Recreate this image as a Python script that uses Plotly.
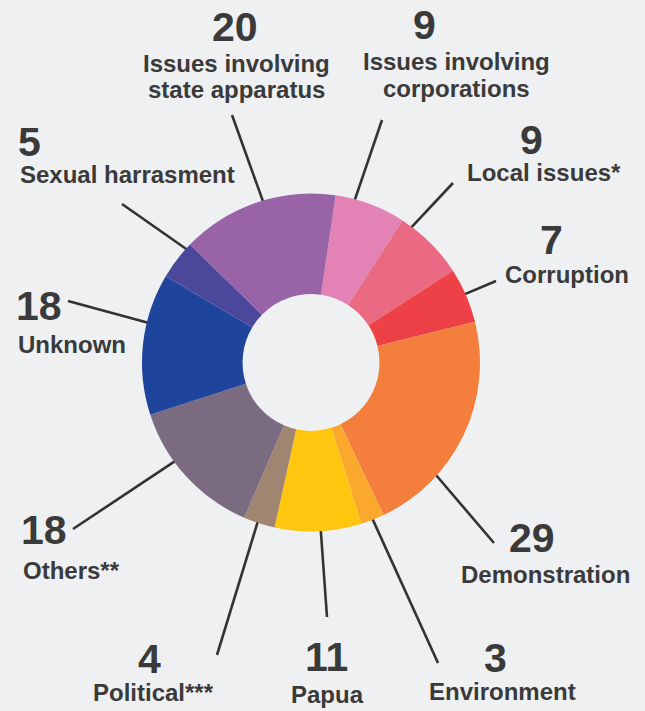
import math
import plotly.graph_objects as go

# ---------------- data ----------------
categories = ["Issues involving corporations", "Local issues*", "Corruption",
              "Demonstration", "Environment", "Papua", "Political***",
              "Others**", "Unknown", "Sexual harrasment",
              "Issues involving state apparatus"]
values = [9, 9, 7, 29, 3, 11, 4, 18, 18, 5, 20]
label_lines = [["Issues involving", "corporations"], ["Local issues*"], ["Corruption"],
               ["Demonstration"], ["Environment"], ["Papua"], ["Political***"],
               ["Others**"], ["Unknown"], ["Sexual harrasment"],
               ["Issues involving", "state apparatus"]]

# ---------------- style / layout ----------------
colors = ["#E383B5", "#E96A82", "#EE4147", "#F47F3D", "#FBA92C", "#FFC60F",
          "#A08570", "#7A6B80", "#1F449B", "#4B489B", "#9963A8"]
BG = "#EFF0F2"
TXT = "#3A3A3A"
W, H = 645, 711
CX, CY, R = 311, 362.5, 169      # pie centre / radius in px
ROT = 8.4                         # start angle (deg clockwise from 12 o'clock)
HOLE = 0.405

# per label: number (x, y, anchor), text (x, y first line, anchor),
# leader: fraction along slice, outer end point (px)
label_layout = [
    dict(num=(425, 25, "center"), txt=(457, 62, "center"), frac=0.27, end=(382, 120)),
    dict(num=(531, 140, "center"), txt=(544, 172, "center"), frac=0.15, end=(453, 183)),
    dict(num=(551, 239.5, "center"), txt=(567, 274, "center"), frac=0.47, end=(496, 281)),
    dict(num=(532, 538, "center"), txt=(545, 574, "center"), frac=0.71, end=(494, 543)),
    dict(num=(495, 658, "center"), txt=(502, 691, "center"), frac=0.5, end=(438, 663)),
    dict(num=(326, 657, "center"), txt=(327, 694, "center"), frac=0.47, end=(327, 617)),
    dict(num=(149, 659, "center"), txt=(153, 692, "center"), frac=0.56, end=(217, 655)),
    dict(num=(20, 530, "left"), txt=(22, 570, "left"), frac=0.63, end=(73, 529)),
    dict(num=(15, 306, "left"), txt=(17, 344, "left"), frac=0.65, end=(68, 301)),
    dict(num=(17, 142, "left"), txt=(19, 174, "left"), frac=0.87, end=(122, 204)),
    dict(num=(235, 27, "center"), txt=(236, 63, "center"), frac=0.54, end=(232, 115)),
]
LINE_GAP = 26.5
NUM_FONT = dict(family="Liberation Sans, Arial, sans-serif",
                size=41, color=TXT, weight="bold")
TXT_FONT = dict(family="Liberation Sans, Arial, sans-serif", size=24, color=TXT,
                weight="bold")


def px(x, y):
    return x / W, 1 - y / H


fig = go.Figure()
fig.add_trace(go.Pie(
    labels=categories, values=values, sort=False, direction="clockwise",
    rotation=ROT, hole=HOLE, textinfo="none", hoverinfo="label+value",
    marker=dict(colors=colors, line=dict(width=0)),
    domain=dict(x=[(CX - R) / W, (CX + R) / W], y=[1 - (CY + R) / H, 1 - (CY - R) / H]),
    showlegend=False,
))

annotations = []
shapes = []
total = sum(values)
cum = 0
for v, lines, lay in zip(values, label_lines, label_layout):
    # leader line
    ang = math.radians(ROT + 360 * (cum + lay["frac"] * v) / total)
    x0 = CX + R * 0.97 * math.sin(ang)
    y0 = CY - R * 0.97 * math.cos(ang)
    x1, y1 = lay["end"]
    a0, b0 = px(x0, y0)
    a1, b1 = px(x1, y1)
    shapes.append(dict(type="line", xref="paper", yref="paper", x0=a0, y0=b0,
                       x1=a1, y1=b1, line=dict(color="#333333", width=2.6),
                       layer="below"))
    cum += v
    # number
    nx, ny, nanc = lay["num"]
    ax, ay = px(nx, ny)
    annotations.append(dict(text=str(v), x=ax, y=ay, xref="paper", yref="paper",
                            xanchor=nanc, yanchor="middle", showarrow=False,
                            font=NUM_FONT, borderpad=0))
    # text lines
    tx, ty, tanc = lay["txt"]
    for i, line in enumerate(lines):
        bx, by = px(tx, ty + i * LINE_GAP)
        annotations.append(dict(text=line, x=bx, y=by, xref="paper", yref="paper",
                                xanchor=tanc, yanchor="middle", showarrow=False,
                                font=TXT_FONT, borderpad=0))

fig.update_layout(
    width=W, height=H, margin=dict(l=0, r=0, t=0, b=0),
    paper_bgcolor=BG, plot_bgcolor=BG,
    annotations=annotations, shapes=shapes,
)
fig.write_html(
    "out.html",
    config={"displayModeBar": False},
    post_script="document.body.style.margin='0';document.body.style.overflow='hidden';",
)
